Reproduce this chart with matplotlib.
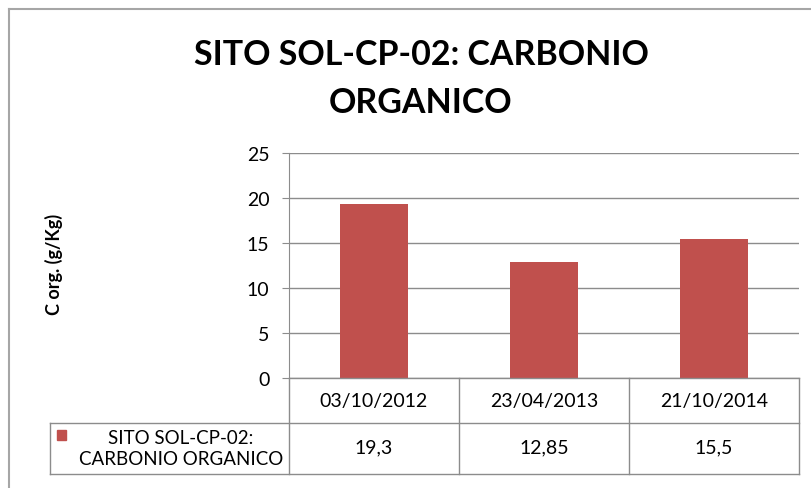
import matplotlib
matplotlib.use('Agg')
import matplotlib.pyplot as plt
from matplotlib.lines import Line2D
from matplotlib.patches import Rectangle
from matplotlib.transforms import blended_transform_factory

dates = ['03/10/2012', '23/04/2013', '21/10/2014']
values = [19.3, 12.85, 15.5]
value_labels = ['19,3', '12,85', '15,5']
series_name = 'SITO SOL-CP-02:\nCARBONIO ORGANICO'
title = 'SITO SOL-CP-02: CARBONIO\nORGANICO'
ylabel = 'C org. (g/Kg)'
yticks = [0, 5, 10, 15, 20, 25]

W, H = 812, 489
bar_color = '#C0504D'
line_color = '#8C8C8C'
plt.rcParams['font.family'] = ['Lato', 'DejaVu Sans']

fig = plt.figure(figsize=(W / 100, H / 100), dpi=100)

def fx(px):
    return px / W

def fy(py):
    return 1 - py / H

# plot area in pixels
left, right, top, bottom = 289, 799, 154, 379
ax = fig.add_axes([fx(left), fy(bottom), fx(right - left), (bottom - top) / H])
x = list(range(len(dates)))
ax.bar(x, values, width=0.4, color=bar_color, zorder=3)
ax.set_xlim(-0.5, len(dates) - 0.5)
ax.set_ylim(0, 25)
ax.set_yticks(yticks)
ax.yaxis.grid(True, color=line_color, lw=1)
ax.set_axisbelow(True)
ax.set_xticks([])
for s in ['top', 'right', 'bottom']:
    ax.spines[s].set_visible(False)
ax.spines['left'].set_color(line_color)
ax.tick_params(axis='y', length=5, color=line_color, labelsize=14, pad=9)

# outer chart frame
frame_c = '#A6A6A6'
fig.add_artist(Line2D([fx(9), 1], [fy(10), fy(10)], color=frame_c, lw=1.5))
fig.add_artist(Line2D([fx(9), fx(9)], [fy(10), 0], color=frame_c, lw=1.5))

fig.text(fx(421), fy(55), 'SITO SOL-CP-02: CARBONIO', ha='center', va='center',
         fontsize=24.5, fontweight='bold')
fig.text(fx(421), fy(103), 'ORGANICO', ha='center', va='center',
         fontsize=24.5, fontweight='bold')
fig.text(fx(54), fy(264), ylabel, rotation=90, ha='center', va='center',
         fontsize=13, fontweight='bold')

# data table
tr = blended_transform_factory(ax.transData, fig.transFigure)
row1, row2, row3 = 379, 424, 475
leg_left = 50
for b in [i - 0.5 for i in range(len(dates) + 1)]:
    fig.add_artist(Line2D([b, b], [fy(row1), fy(row3)], color=line_color, lw=1, transform=tr))
fig.add_artist(Line2D([-0.5, len(dates) - 0.5], [fy(row1), fy(row1)], color=line_color, lw=1, transform=tr))
for r in [row2, row3]:
    fig.add_artist(Line2D([fx(leg_left), fx(right)], [fy(r), fy(r)], color=line_color, lw=1))
fig.add_artist(Line2D([fx(leg_left), fx(leg_left)], [fy(row2), fy(row3)], color=line_color, lw=1))

for i, d in enumerate(dates):
    fig.text(i, fy(402), d, transform=tr, ha='center', va='center', fontsize=14)
    fig.text(i, fy(448), value_labels[i], transform=tr, ha='center', va='center', fontsize=14)

fig.add_artist(Rectangle((fx(57), fy(441)), fx(9), 10 / H, color=bar_color))
fig.text(fx(181), fy(449), series_name, ha='center', va='center', fontsize=13.5,
         linespacing=1.35)

fig.savefig('out.png', dpi=100)
